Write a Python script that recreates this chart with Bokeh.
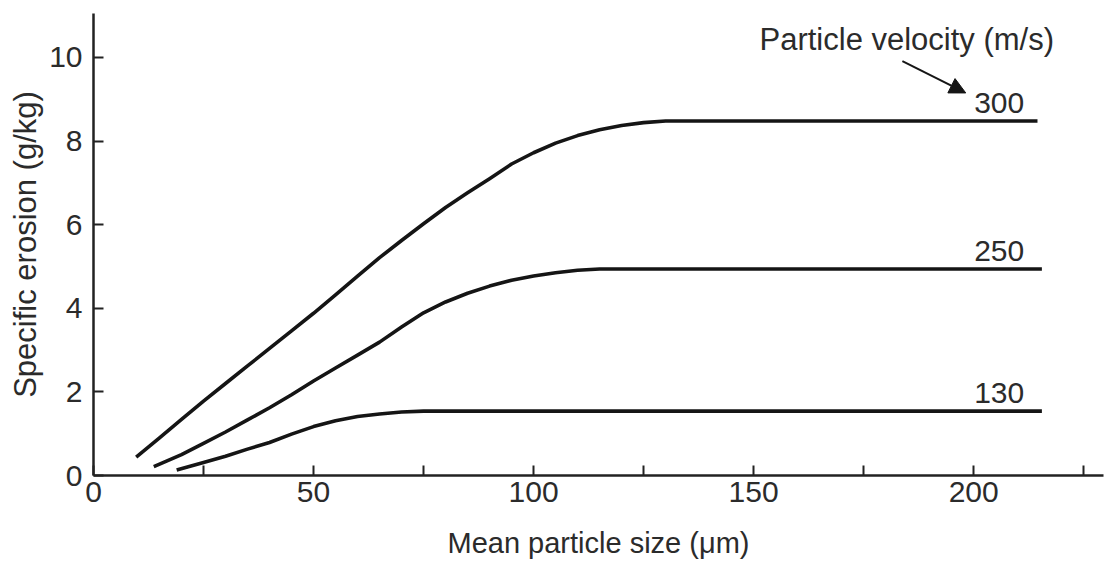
from bokeh.plotting import figure
from bokeh.models import FixedTicker, Label, Arrow, NormalHead, ColumnDataSource, Range1d
from bokeh.core.properties import value
from bokeh.embed import file_html
from bokeh.resources import INLINE

# ---- data ----
x_300 = [9.7, 15, 20, 25, 30, 35, 40, 45, 50, 55, 60, 65, 70, 75, 80, 85, 90, 95,
         100, 105, 110, 115, 120, 125, 130, 214.5]
y_300 = [0.44, 0.90, 1.34, 1.78, 2.20, 2.62, 3.04, 3.46, 3.88, 4.32, 4.77, 5.21, 5.62,
         6.02, 6.41, 6.76, 7.10, 7.45, 7.72, 7.95, 8.13, 8.27, 8.37, 8.44, 8.48, 8.48]

x_250 = [13.7, 20, 25, 30, 35, 40, 45, 50, 55, 60, 65, 70, 75, 80, 85, 90, 95, 100,
         105, 110, 115, 215.5]
y_250 = [0.21, 0.50, 0.77, 1.04, 1.33, 1.62, 1.93, 2.26, 2.57, 2.88, 3.19, 3.55, 3.89,
         4.15, 4.36, 4.53, 4.67, 4.77, 4.85, 4.91, 4.94, 4.94]

x_130 = [18.9, 25, 30, 35, 40, 45, 50, 55, 60, 65, 70, 75, 215.5]
y_130 = [0.13, 0.31, 0.46, 0.63, 0.79, 0.99, 1.17, 1.31, 1.41, 1.47, 1.52, 1.54, 1.54]

velocities = ["300", "250", "130"]
x_ticks = [0, 25, 50, 75, 100, 125, 150, 175, 200, 225]
x_tick_labels = {25: "", 75: "", 125: "", 175: "", 225: ""}
y_ticks = [0, 2, 4, 6, 8, 10]

FONT = "Liberation Sans"
TXT = "#2b2b2b"
LINE = "#151515"
LABEL_X = 205.8     # centre of the velocity labels
LABEL_LIFT = 0.43   # gap between a plateau and its label

p = figure(width=1108, height=563, output_backend="svg", toolbar_location=None,
           x_range=Range1d(0, 229.5), y_range=Range1d(0, 11.05),
           min_border_left=93, min_border_right=5, min_border_top=13, min_border_bottom=88)
p.outline_line_color = None
p.grid.visible = False
p.background_fill_color = "white"
p.border_fill_color = "white"

for xs, ys in [(x_300, y_300), (x_250, y_250), (x_130, y_130)]:
    p.line(xs, ys, line_color=LINE, line_width=3.6, line_join="round")

# curve labels
lab_src = ColumnDataSource(dict(
    x=[LABEL_X] * 3,
    y=[y_300[-1] + LABEL_LIFT, y_250[-1] + LABEL_LIFT, y_130[-1] + LABEL_LIFT],
    t=velocities))
p.text(x="x", y="y", text="t", source=lab_src, text_align="center",
       text_baseline="middle", text_color=TXT,
       text_font=value(FONT), text_font_size="30px")

p.add_layout(Label(x=184.8, y=10.43, text="Particle velocity (m/s)", text_align="center",
                   text_baseline="middle", text_color=TXT,
                   text_font=FONT, text_font_size="31px"))
p.add_layout(Arrow(x_start=183.8, y_start=9.91, x_end=198.2, y_end=9.15,
                   line_color=LINE, line_width=2,
                   end=NormalHead(size=16, fill_color=LINE, line_color=LINE)))

# axes
for ax in (p.xaxis[0], p.yaxis[0]):
    ax.axis_line_width = 2.5
    ax.axis_line_color = "#222222"
    ax.major_tick_line_color = "#222222"
    ax.major_tick_line_width = 2
    ax.major_tick_in = 10
    ax.major_tick_out = 0
    ax.minor_tick_line_color = None
    ax.major_label_text_font = FONT
    ax.major_label_text_font_size = "30px"
    ax.major_label_text_color = TXT
    ax.axis_label_text_font = FONT
    ax.axis_label_text_font_style = "normal"
    ax.axis_label_text_color = TXT

p.xaxis.ticker = FixedTicker(ticks=x_ticks)
p.xaxis.major_label_overrides = x_tick_labels
p.xaxis.major_label_standoff = 6
p.xaxis.axis_label = "Mean particle size (\u03bcm)"
p.xaxis.axis_label_text_font_size = "29px"
p.xaxis.axis_label_standoff = 22

p.yaxis.ticker = FixedTicker(ticks=y_ticks)
p.yaxis.major_label_standoff = 11
p.yaxis.axis_label = "Specific erosion (g/kg)"
p.yaxis.axis_label_text_font_size = "31px"
p.yaxis.axis_label_standoff = 3

open("out.html", "w").write(file_html(p, INLINE))
